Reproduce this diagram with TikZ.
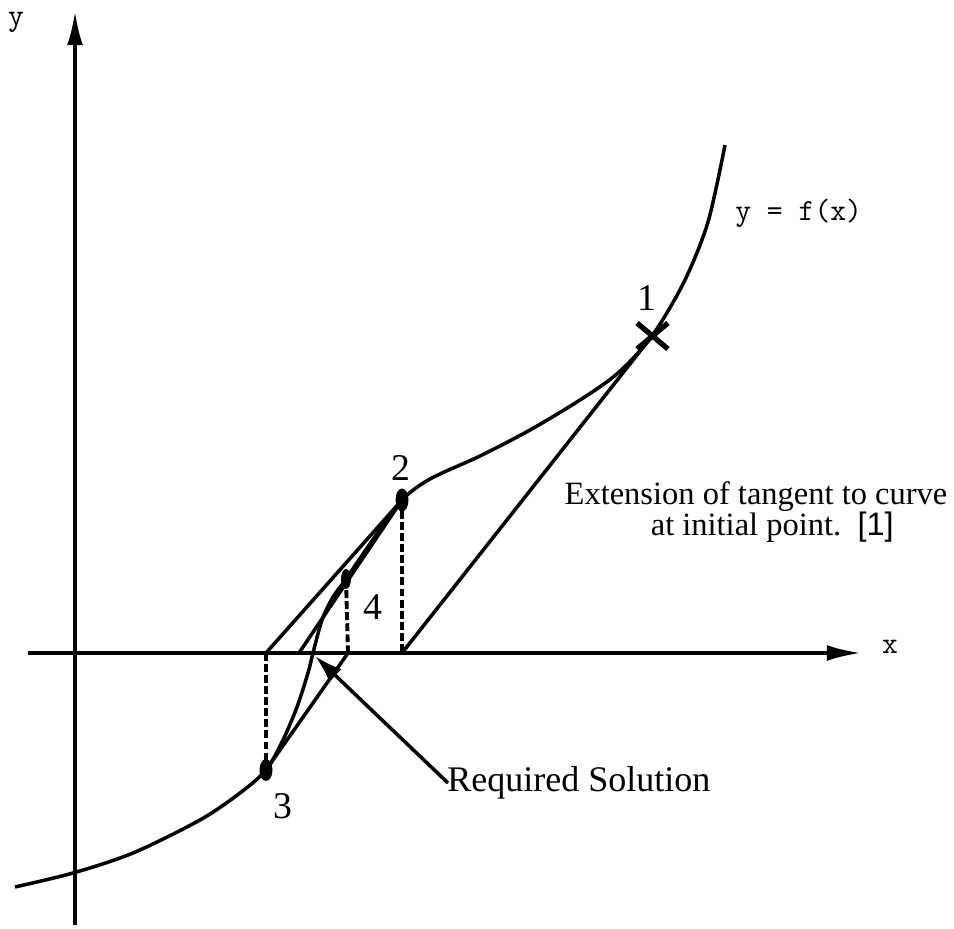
\documentclass[tikz,border=0pt]{standalone}
\usepackage{fontspec}
\setmainfont{Liberation Serif}
\setsansfont{Liberation Sans}
\usepackage{tikz}
\usetikzlibrary{arrows.meta, positioning, calc}
\tikzset{
  axisline/.style={
    line width=2.4pt, -{Latex[length=20pt, width=9pt]}
  },
  curveline/.style={
    line width=2pt, line join=round
  },
  iterline/.style={
    line width=2pt
  },
  dropline/.style={
    line width=2.2pt, dash pattern=on 4.5pt off 1.8pt
  },
  pointerarrow/.style={
    line width=2pt, -{Latex[length=16pt, width=10pt]}
  },
  ptlabel/.style={
    font=\fontsize{21.5}{24}\selectfont, inner sep=0pt
  },
  notelabel/.style={
    font=\fontsize{18.5}{18}\selectfont, inner sep=0pt, align=center
  },
  sollabel/.style={
    font=\fontsize{20.5}{24}\selectfont, inner sep=0pt
  },
  codelabel/.style={
    font=\ttfamily\fontsize{17.5}{20}\selectfont, inner sep=0pt
  },
}

\begin{document}
\begin{tikzpicture}[x=0.02cm, y=-0.02cm]
  \useasboundingbox (0,0) rectangle (954,929);

  % Axes
  \coordinate (ybot) at (75,925);
  \coordinate (ytop) at (75,10);
  \coordinate (xleft) at (28,653);
  \coordinate (xright) at (862,653);
  \draw[axisline] (ybot) -- (ytop);
  \draw[axisline] (xleft) -- (xright);
  \node[codelabel] (ylab) at (16,22) {y};
  \node[codelabel] (xlab) at (890,647) {x};

  % Points on the curve
  \coordinate (p1) at (652,336);
  \coordinate (p2) at (402,500);
  \coordinate (p3) at (266,770);
  \coordinate (p4) at (346,579);

  % Feet on the x axis
  \coordinate (f1) at (402,653);
  \coordinate (f2) at (266,653);
  \coordinate (f3) at (348,653);
  \coordinate (f4) at (299,653);
  \coordinate (root) at (313,653);

  % The curve y = f(x)
  \draw[curveline] plot[smooth, tension=0.5] coordinates {
    (15,887) (73,873) (133,853) (200,820) (240,793) (p3) (283,740)
    (297,707) (308,673) (root) (322,620) (333,597) (p4) (374,538)
    (p2) (430,479) (480,456) (530,430) (580,400) (618,373)
    (p1) (684,282) (708,222) (725,145)};
  \node[codelabel, anchor=west] (flab) at (735,213) {y = f(x)};

  % Tangents and secant steps
  \draw[iterline] (f1) -- (p1);
  \draw[iterline] (p2) -- (f2);
  \draw[iterline] (p3) -- (f3);
  \draw[iterline] (p2) -- (f4);

  % Drop lines
  \draw[dropline] (p2) -- (f1);
  \draw[dropline] (f2) -- (p3);
  \draw[dropline] (p4) -- (f3);

  % Markers
  \draw[line width=3pt] ($(p1)+(-15,-13)$) -- ($(p1)+(16,13)$);
  \draw[line width=3pt] ($(p1)+(-15,13)$) -- ($(p1)+(16,-13)$);
  \fill (p2) ellipse (6.5 and 11.5);
  \fill (p3) ellipse (6.5 and 11);
  \fill (p4) ellipse (5 and 10);

  % Point numbers
  \node[ptlabel] (n1) at (647,298) {1};
  \node[ptlabel] (n2) at (401,468) {2};
  \node[ptlabel] (n3) at (283,806) {3};
  \node[ptlabel] (n4) at (373,607) {4};

  % Notes
  \node[notelabel] (tangnote) at (756,512)
    {Extension of tangent to curve\\
     \hspace*{1em}at initial point.\ \ \textsf{[1]}};
  \node[sollabel, anchor=west] (solnote) at (447,783) {Required Solution};
  \coordinate (ptrtail) at (448,783);
  \coordinate (ptrtip) at (315,656);
  \draw[pointerarrow] (ptrtail) -- (ptrtip);
\end{tikzpicture}
\end{document}
